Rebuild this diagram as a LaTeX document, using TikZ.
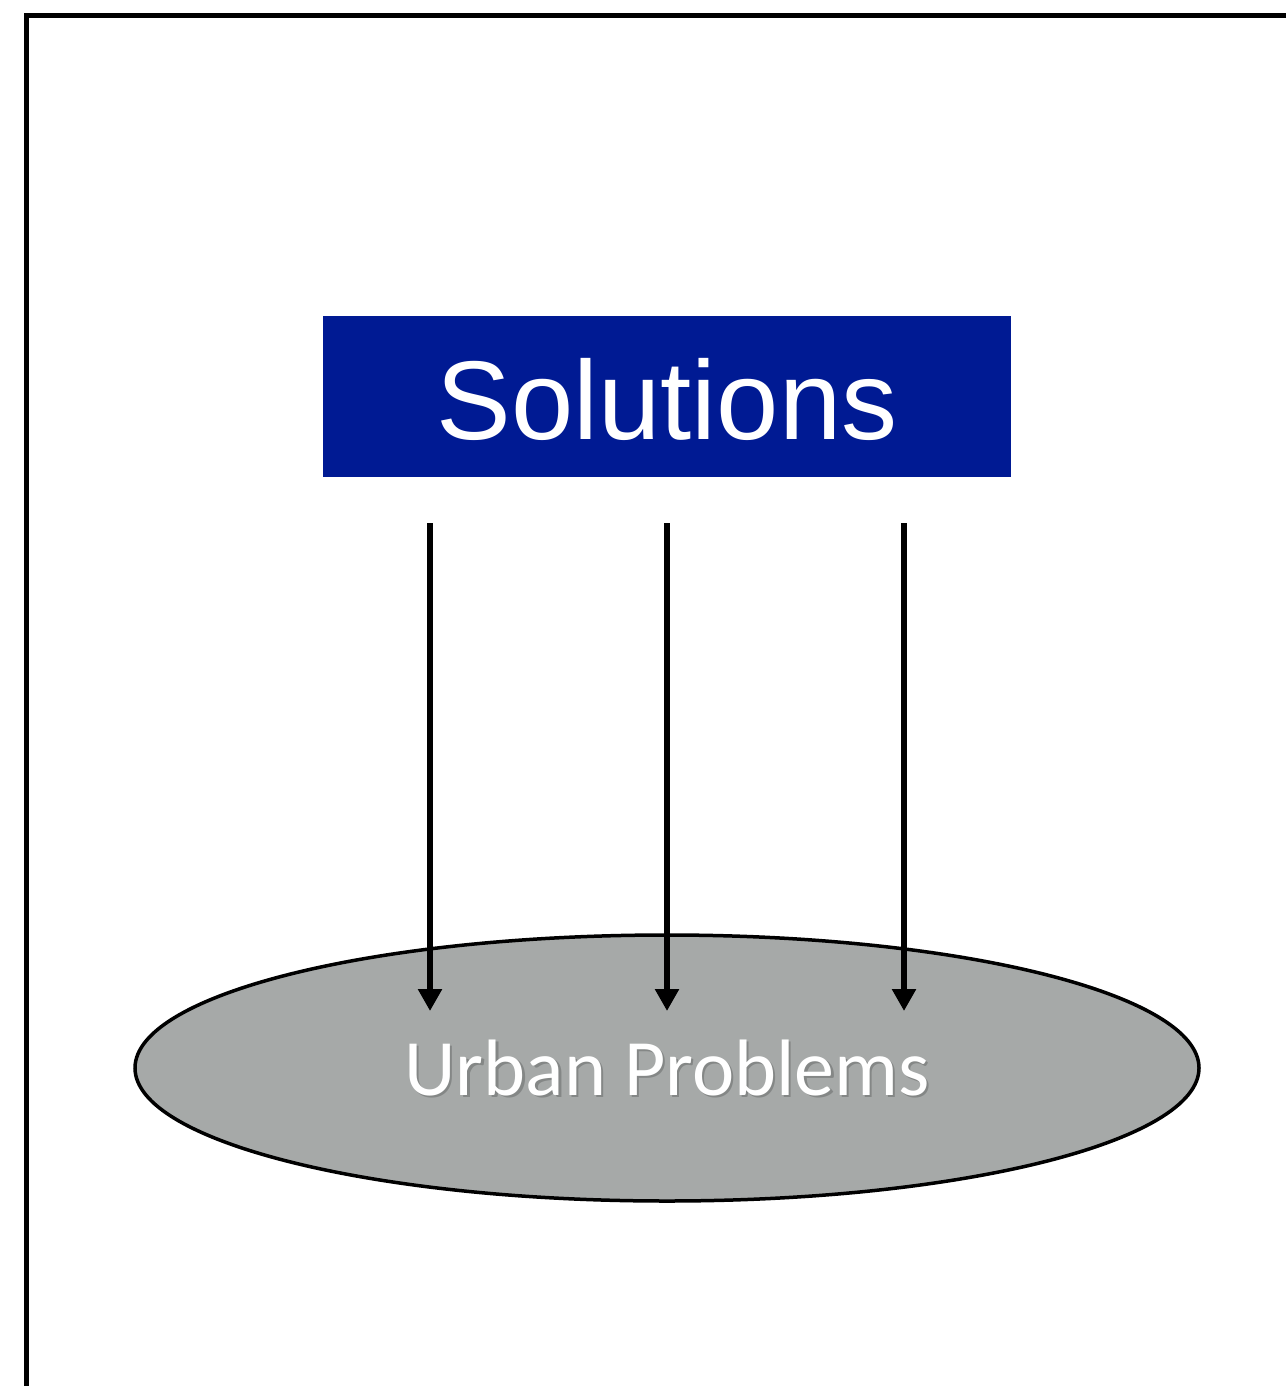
\documentclass[tikz,border=0pt]{standalone}
\usepackage{fontspec}
\newfontfamily\arialf{Liberation Sans}
\newfontfamily\calibf{Carlito}
\usetikzlibrary{shapes.geometric,arrows.meta}
\definecolor{solblue}{HTML}{001A93}
\definecolor{urbgray}{HTML}{A6A9A8}
\tikzset{
  frameline/.style={line width=5pt},
  solbox/.style={rectangle, fill=solblue, draw=none, minimum width=688pt, minimum height=161pt, inner sep=0pt},
  urbell/.style={ellipse, fill=urbgray, draw=black, line width=3.5pt, minimum width=1064pt, minimum height=266pt, inner sep=0pt},
  soltext/.style={text=white, font=\arialf\fontsize{112}{120}\selectfont, inner sep=0pt, anchor=base},
  urbtext/.style={text=white, font=\calibf\fontsize{80}{90}\selectfont, inner sep=0pt, anchor=base},
  urbshadow/.style={text=black, opacity=0.2, font=\calibf\fontsize{80}{90}\selectfont, inner sep=0pt, anchor=base},
  downarrow/.style={line width=6pt, -{Triangle[width=23pt,length=22pt]}}
}
\begin{document}
\begin{tikzpicture}[x=1pt,y=-1pt]
\useasboundingbox (0,0) rectangle (1286,1386);
% frame
\coordinate (fr1) at (1286,15.5);
\coordinate (fr2) at (26.5,15.5);
\coordinate (fr3) at (26.5,1386);
\draw[frameline] (fr1) -- (fr2) -- (fr3);
% nodes
\node[solbox] (sol) at (667,396.5) {};
\node[soltext] (soltxt) at (667,439) {Solutions};
\node[urbell] (urb) at (667,1068) {};
\node[urbshadow] (urbsh) at (669.5,1097.5) {Urban Problems};
\node[urbtext] (urbtxt) at (667,1095) {Urban Problems};
% arrows
\foreach \i/\x in {1/430,2/667,3/904}{
  \coordinate (s\i) at (\x,523);
  \coordinate (e\i) at (\x,1011);
  \draw[downarrow] (s\i) -- (e\i);
}
\end{tikzpicture}
\end{document}
